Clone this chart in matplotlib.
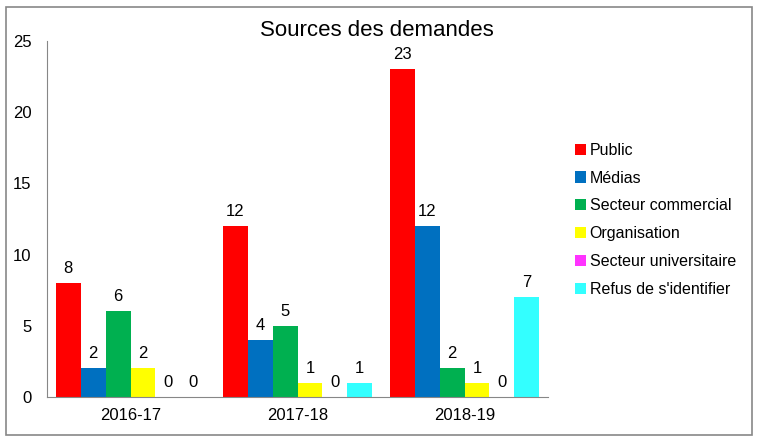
import matplotlib.pyplot as plt
import numpy as np
from matplotlib.patches import Rectangle

plt.rcParams['font.family'] = ['Liberation Sans', 'DejaVu Sans']

# data
years = ['2016-17', '2017-18', '2018-19']
series = ['Public', 'Médias', 'Secteur commercial', 'Organisation',
          'Secteur universitaire', "Refus de s'identifier"]
public = [8, 12, 23]
medias = [2, 4, 12]
commercial = [6, 5, 2]
organisation = [2, 1, 1]
universitaire = [0, 0, 0]
refus = [0, 1, 7]
values = [public, medias, commercial, organisation, universitaire, refus]
colors = ['#FF0000', '#0070C0', '#00B050', '#FFFF00', '#FF33FF', '#33FFFF']

fig = plt.figure(figsize=(7.58, 4.44), dpi=100)
ax = fig.add_axes([0.062, 0.106, 0.661, 0.802])

x = np.arange(len(years))
w = 0.149
for i, (name, vals, c) in enumerate(zip(series, values, colors)):
    pos = x + (i - 2.5) * w
    bars = ax.bar(pos, vals, w, color=c, label=name)
    for p, v in zip(pos, vals):
        ax.text(p, v + 0.5, str(v), ha='center', va='bottom', fontsize=12)

ax.set_xlim(-0.5, 2.5)
ax.set_ylim(0, 25)
ax.set_yticks([0, 5, 10, 15, 20, 25])
ax.set_xticks(x)
ax.set_xticklabels(years)
ax.tick_params(length=0, labelsize=12)
ax.tick_params(axis='y', pad=11)
ax.tick_params(axis='x', pad=8)
for s in ['top', 'right']:
    ax.spines[s].set_visible(False)
for s in ['left', 'bottom']:
    ax.spines[s].set_color('#878787')

fig.text(0.497, 0.932, 'Sources des demandes', ha='center', va='center', fontsize=16)

fig.legend(loc='center left', bbox_to_anchor=(0.739, 0.505), frameon=False,
           fontsize=11.5, handlelength=0.7, handleheight=0.7, handletextpad=0.25,
           labelspacing=0.8)

# outer border
fig.patches.append(Rectangle((0.008, 0.02), 0.984, 0.965, transform=fig.transFigure,
                             fill=False, edgecolor='#878787', linewidth=1.2))

plt.savefig('out.png')
